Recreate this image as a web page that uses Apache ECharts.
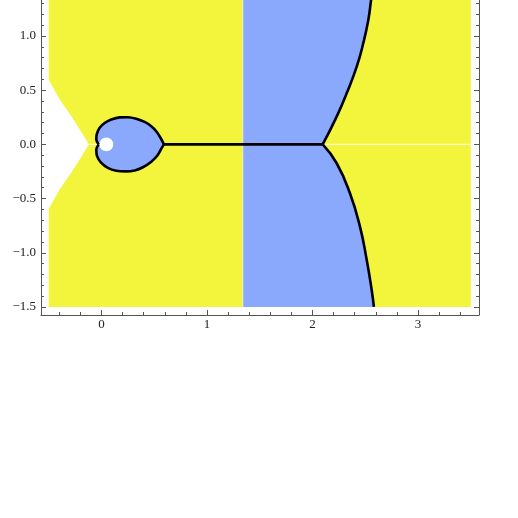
<!DOCTYPE html>
<html>
<head>
<meta charset="utf-8">
<script src="https://cdn.jsdelivr.net/npm/echarts@6/dist/echarts.min.js"></script>
<style>
  html, body { margin: 0; padding: 0; background: #fff; }
  #chart { width: 518px; height: 518px; }
</style>
</head>
<body>
<div id="chart"></div>
<script>
// axis ranges (the picture is cut off at the top)
var xMin = -0.573, xMax = 3.578;
var yMin = -1.574, yMax = 1.332;

// tick labels
var xMajor = [0, 1, 2, 3];
var xMinor = [-0.4, -0.2, 0.2, 0.4, 0.6, 0.8, 1.2, 1.4, 1.6, 1.8, 2.2, 2.4, 2.6, 2.8, 3.2, 3.4];
var yMajor = [-1.5, -1, -0.5, 0, 0.5, 1];
var yMinor = [-1.4, -1.3, -1.2, -1.1, -0.9, -0.8, -0.7, -0.6, -0.4, -0.3, -0.2, -0.1,
              0.1, 0.2, 0.3, 0.4, 0.6, 0.7, 0.8, 0.9, 1.1, 1.2, 1.3];

// yellow region, with the white wedge cut in on the left
var yellowRegion = [
  [-0.5, 1.5], [3.5, 1.5], [3.5, -1.5], [-0.5, -1.5],
  [-0.5, -0.594], [-0.488, -0.576], [-0.393, -0.41], [-0.28, -0.253],
  [-0.185, -0.105], [-0.128, -0.013], [-0.14, 0],
  [-0.128, 0.013], [-0.185, 0.105], [-0.28, 0.253], [-0.393, 0.41],
  [-0.488, 0.576], [-0.5, 0.594]
];

// right hand boundary curve (upper and lower branch, both end at the vertex)
var curveUpper = [[2.579, 1.5], [2.555, 1.332], [2.529, 1.148], [2.481, 0.933],
                  [2.419, 0.717], [2.324, 0.471], [2.229, 0.256], [2.097, 0]];
var curveLower = [[2.097, 0], [2.229, -0.174], [2.355, -0.451], [2.45, -0.759],
                  [2.514, -1.066], [2.561, -1.343], [2.582, -1.5]];
var bandLeft = 1.34;

// heart shaped loop, tip -> top -> dimple -> bottom -> tip
var heartUpper = [[0.592, 0], [0.561, 0.059], [0.519, 0.121], [0.472, 0.167], [0.409, 0.207],
                  [0.33, 0.237], [0.251, 0.251], [0.173, 0.249], [0.093, 0.229], [0.03, 0.197],
                  [-0.017, 0.153], [-0.045, 0.093], [-0.049, 0.045], [-0.027, 0]];
var heartLower = [[-0.027, 0], [-0.049, -0.047], [-0.042, -0.108], [-0.004, -0.168], [0.06, -0.216],
                  [0.14, -0.243], [0.235, -0.249], [0.315, -0.24], [0.393, -0.211],
                  [0.472, -0.16], [0.532, -0.1], [0.57, -0.035], [0.592, 0]];
var hole = [0.046, 0, 0.066];

// segments on the real axis
var blackSegment = [[0.592, 0], [2.097, 0]];
var whiteSegments = [[[-0.14, 0], [-0.03, 0]], [[2.097, 0], [3.5, 0]], [[bandLeft, -1.5], [bandLeft, 1.5]]];

var yellow = '#f2f53c';
var blue = '#8aa8fc';
var frame = '#555';

var chart = echarts.init(document.getElementById('chart'));

function polygonSeries(points, fill) {
  return {
    type: 'custom',
    coordinateSystem: 'cartesian2d',
    silent: true,
    data: [[points[0][0], points[0][1]]],
    renderItem: function (params, api) {
      var pts = points.map(function (p) { return api.coord(p); });
      return { type: 'polygon', shape: { points: pts }, style: { fill: fill } };
    }
  };
}

function lineSeries(points, color, width, smooth) {
  return {
    type: 'line',
    data: points,
    showSymbol: false,
    smooth: smooth,
    silent: true,
    lineStyle: { color: color, width: width },
    z: 5
  };
}

function fmt(v) {
  var s = Math.abs(v).toFixed(1);
  return v < 0 ? '\u2212' + s : s;
}

var labelFont = { fontFamily: 'Liberation Serif', fontSize: 13, color: '#222' };

function axis(kind, pos, ticks, len, labels, showLine) {
  var a = {
    type: 'value',
    min: kind === 'x' ? xMin : yMin,
    max: kind === 'x' ? xMax : yMax,
    position: pos,
    splitLine: { show: false },
    axisLine: { show: showLine, onZero: false, lineStyle: { color: frame, width: 1 } },
    axisTick: { inside: true, length: len, customValues: ticks, lineStyle: { color: frame, width: 1 } },
    axisLabel: { show: false }
  };
  if (labels) {
    a.axisLabel = Object.assign({
      show: true,
      customValues: labels,
      margin: kind === 'x' ? 3 : 5,
      formatter: kind === 'x' ? function (v) { return String(v); } : fmt
    }, labelFont);
  }
  return a;
}

var bandRegion = [[bandLeft, 1.5]].concat(curveUpper, curveLower.slice(1), [[bandLeft, -1.5]]);
var heartRegion = heartUpper.concat(heartLower.slice(1));

var option = {
  animation: false,
  backgroundColor: '#fff',
  grid: { left: 41, right: 39, top: 0, bottom: 203 },
  xAxis: [
    axis('x', 'bottom', xMajor, 5, xMajor, true),
    axis('x', 'bottom', xMinor, 3, null, false)
  ],
  yAxis: [
    axis('y', 'left', yMajor, 5, yMajor, true),
    axis('y', 'left', yMinor, 3, null, false),
    axis('y', 'right', yMajor, 5, null, true),
    axis('y', 'right', yMinor, 3, null, false)
  ],
  series: [
    polygonSeries(yellowRegion, yellow),
    polygonSeries(bandRegion, blue),
    polygonSeries(heartRegion, blue),
    {
      type: 'custom',
      coordinateSystem: 'cartesian2d',
      silent: true,
      data: [hole],
      renderItem: function (params, api) {
        var c = api.coord([api.value(0), api.value(1)]);
        var r = api.size([api.value(2), 0])[0];
        return { type: 'circle', shape: { cx: c[0], cy: c[1], r: r }, style: { fill: '#fff' }, z2: 3 };
      }
    },
    lineSeries(whiteSegments[0], 'rgba(255,255,255,0.85)', 1.2, false),
    lineSeries(whiteSegments[1], 'rgba(255,255,255,0.75)', 1.2, false),
    lineSeries(whiteSegments[2], 'rgba(255,255,255,0.6)', 1, false),
    lineSeries(blackSegment, '#000', 2.6, false),
    lineSeries(curveUpper, '#000', 2.6, true),
    lineSeries(curveLower, '#000', 2.6, true),
    lineSeries(heartUpper, '#000', 2.6, 0.3),
    lineSeries(heartLower, '#000', 2.6, 0.3)
  ]
};

chart.setOption(option);
</script>
</body>
</html>
